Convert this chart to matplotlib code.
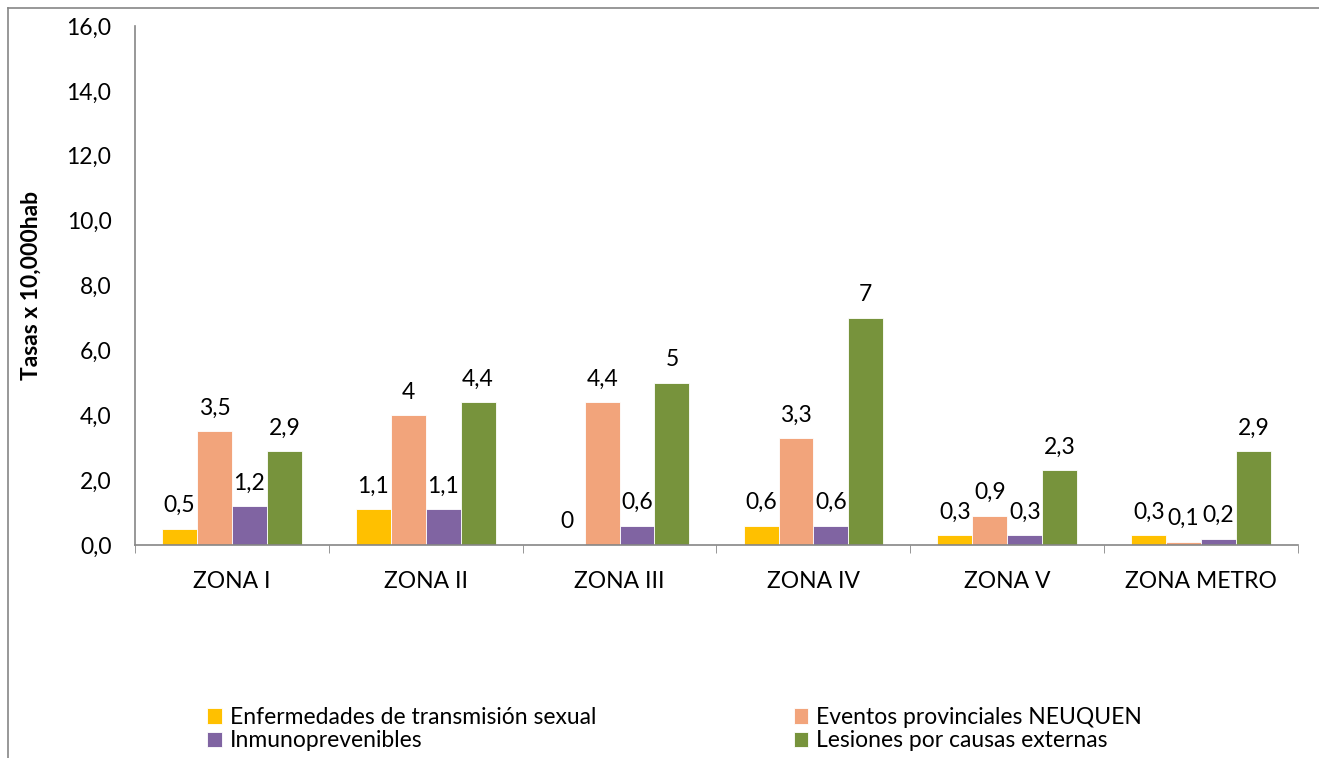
import matplotlib
matplotlib.use('Agg')
import matplotlib.pyplot as plt
import numpy as np
from matplotlib.ticker import FuncFormatter, FixedLocator
from matplotlib.lines import Line2D

plt.rcParams['font.family'] = ['Lato', 'DejaVu Sans']

# data
zonas = ['ZONA I', 'ZONA II', 'ZONA III', 'ZONA IV', 'ZONA V', 'ZONA METRO']
series_names = ['Enfermedades de transmisión sexual', 'Eventos provinciales NEUQUEN',
                'Inmunoprevenibles', 'Lesiones por causas externas']
ets = [0.5, 1.1, 0, 0.6, 0.3, 0.3]
eventos = [3.5, 4, 4.4, 3.3, 0.9, 0.1]
inmuno = [1.2, 1.1, 0.6, 0.6, 0.3, 0.2]
lesiones = [2.9, 4.4, 5, 7, 2.3, 2.9]
colors = ['#FFC000', '#F2A47B', '#8064A2', '#77933C']

fs = 16.5

fig = plt.figure(figsize=(13.19, 7.58), dpi=100)
ax = fig.add_axes([135 / 1319, 1 - 545 / 758, 1163 / 1319, 519 / 758])

x = np.arange(len(zonas))
w = 0.18
all_series = [ets, eventos, inmuno, lesiones]
bars = []
for i, (vals, c) in enumerate(zip(all_series, colors)):
    b = ax.bar(x + (i - 1.5) * w, vals, width=w, color=c, edgecolor='white', linewidth=0.6)
    bars.append(b)
    for xi, v in zip(x + (i - 1.5) * w, vals):
        ax.annotate(f'{v:g}'.replace('.', ','), (xi, v), xytext=(0, 9), textcoords='offset points',
                    ha='center', va='bottom', fontsize=fs)

ax.set_xlim(-0.5, len(zonas) - 0.5)
ax.set_ylim(0, 16)
ax.set_yticks(np.arange(0, 16.1, 2))
ax.yaxis.set_major_formatter(FuncFormatter(lambda v, p: f'{v:.1f}'.replace('.', ',')))
ax.set_xticks(x)
ax.set_xticklabels(zonas)
ax.xaxis.set_minor_locator(FixedLocator(np.arange(-0.5, len(zonas), 1)))
ax.tick_params(axis='x', which='major', length=0, pad=19, labelsize=fs)
ax.tick_params(axis='x', which='minor', length=6, color='#868686', direction='out')
ax.tick_params(axis='y', length=0, pad=17, labelsize=fs)
for s in ['top', 'right']:
    ax.spines[s].set_visible(False)
for s in ['left', 'bottom']:
    ax.spines[s].set_color('#868686')
    ax.spines[s].set_linewidth(1.2)

ax.set_ylabel('Tasas x 10,000hab', fontsize=fs, fontweight='bold')
ax.yaxis.set_label_coords((42 - 135) / 1163, 0.5)

# legend: two columns
handles = [bars[0], bars[2], bars[1], bars[3]]
labels = [series_names[0], series_names[2], series_names[1], series_names[3]]
fig.legend(handles, labels, loc='upper left', bbox_to_anchor=(198 / 1319, 1 - 698 / 758),
           ncol=2, frameon=False, fontsize=fs, handlelength=0.65, handleheight=0.65,
           handletextpad=0.35, columnspacing=8.6, labelspacing=0.1, borderaxespad=0)

# chart area border (top and left visible)
fig.add_artist(Line2D([8 / 1319, 8 / 1319], [0, 1 - 8 / 758], transform=fig.transFigure,
                      color='#868686', linewidth=1.2))
fig.add_artist(Line2D([8 / 1319, 1], [1 - 8 / 758, 1 - 8 / 758], transform=fig.transFigure,
                      color='#868686', linewidth=1.2))

fig.savefig('out.png', dpi=100)
